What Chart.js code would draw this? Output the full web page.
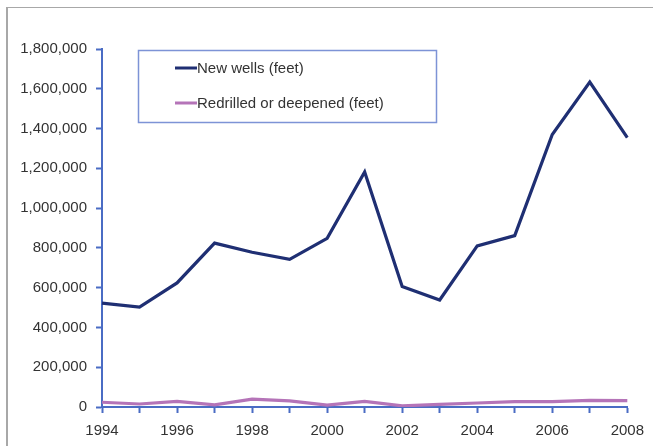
<!DOCTYPE html>
<html>
<head>
<meta charset="utf-8">
<script src="https://cdn.jsdelivr.net/npm/chart.js@4.4.1/dist/chart.umd.min.js"></script>
<style>
  html, body { margin: 0; padding: 0; background: #fff; }
  #wrap { position: relative; width: 653px; height: 446px; overflow: hidden; }
  #frame {
    position: absolute; left: 6px; top: 7px; width: 700px; height: 500px;
    border-left: 2px solid #a8a8a8; border-top: 1px solid #a8a8a8;
  }
  canvas { position: absolute; left: 0; top: 0; }
</style>
</head>
<body>
<div id="wrap">
  <div id="frame"></div>
  <canvas id="chart" width="653" height="446"></canvas>
</div>
<script>
  const years = ['1994', '1995', '1996', '1997', '1998', '1999', '2000', '2001',
                 '2002', '2003', '2004', '2005', '2006', '2007', '2008'];
  const newWells = [522000, 502000, 624000, 824000, 778000, 742000, 848000, 1182000,
                    606000, 538000, 810000, 862000, 1370000, 1634000, 1354000];
  const redrilled = [24000, 15000, 28000, 11000, 40000, 31000, 9000, 28000,
                     6000, 13000, 20000, 27000, 27000, 33000, 32000];
  const yTicks = [0, 200000, 400000, 600000, 800000, 1000000, 1200000, 1400000, 1600000, 1800000];

  const AXIS_BLUE = '#4a6cc4';
  const TEXT = '#333333';
  const FONT = { family: '"Liberation Sans", Arial, sans-serif', size: 15 };

  // legend drawn as a boxed panel inside the plot, like the original
  const boxLegend = {
    id: 'boxLegend',
    afterDraw(chart) {
      const ctx = chart.ctx;
      ctx.save();
      ctx.strokeStyle = '#7d93d6';
      ctx.lineWidth = 1.5;
      ctx.strokeRect(138.5, 50.5, 298, 72);
      ctx.font = '15px "Liberation Sans", Arial, sans-serif';
      ctx.textBaseline = 'middle';
      ctx.fillStyle = TEXT;
      const rows = [68, 103];
      chart.data.datasets.forEach((ds, i) => {
        const y = rows[i];
        ctx.strokeStyle = ds.borderColor;
        ctx.lineWidth = 3;
        ctx.beginPath();
        ctx.moveTo(175, y);
        ctx.lineTo(197, y);
        ctx.stroke();
        ctx.fillText(ds.label, 197, y + 1);
      });
      ctx.restore();
    }
  };

  new Chart(document.getElementById('chart'), {
    type: 'line',
    data: {
      labels: years,
      datasets: [
        {
          label: 'New wells (feet)',
          data: newWells,
          borderColor: '#1f2f73',
          borderWidth: 3.2,
          pointRadius: 0,
          tension: 0
        },
        {
          label: 'Redrilled or deepened (feet)',
          data: redrilled,
          borderColor: '#b574b8',
          borderWidth: 3.2,
          pointRadius: 0,
          tension: 0
        }
      ]
    },
    options: {
      responsive: false,
      animation: false,
      layout: { padding: { left: 0, right: 25, top: 49, bottom: 0 } },
      plugins: { legend: { display: false }, tooltip: { enabled: false } },
      scales: {
        x: {
          type: 'category',
          offset: false,
          border: { display: true, color: AXIS_BLUE, width: 2 },
          grid: { drawOnChartArea: false, drawTicks: true, tickLength: 6, color: AXIS_BLUE, tickWidth: 2 },
          ticks: {
            autoSkip: false,
            maxRotation: 0,
            padding: 9,
            color: TEXT,
            font: FONT,
            callback: (v, i) => (i % 2 === 0 ? years[i] : '')
          },
          afterFit: (s) => { s.height = 39; }
        },
        y: {
          min: 0,
          max: 1800000,
          afterBuildTicks: (s) => { s.ticks = yTicks.map((v) => ({ value: v })); },
          border: { display: true, color: AXIS_BLUE, width: 2 },
          grid: { drawOnChartArea: false, drawTicks: true, tickLength: 6, color: AXIS_BLUE, tickWidth: 2 },
          ticks: {
            padding: 9,
            color: TEXT,
            font: FONT,
            callback: (v) => Number(v).toLocaleString('en-US')
          },
          afterFit: (s) => { s.width = 102; }
        }
      }
    },
    plugins: [boxLegend]
  });
</script>
</body>
</html>
